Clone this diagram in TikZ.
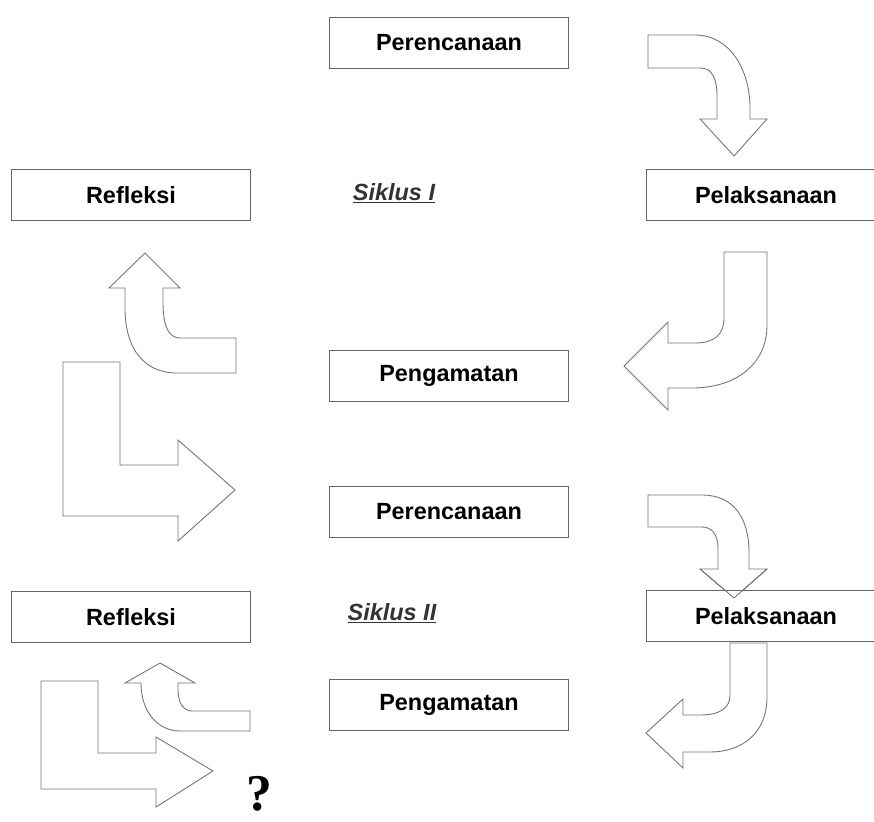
\documentclass[tikz,border=0pt]{standalone}
\usepackage{fontspec}
\setmainfont{Liberation Sans}
\newfontfamily\qfont{Liberation Serif}
\usepackage{tikz}
\usetikzlibrary{positioning}

\tikzset{
  box/.style={draw=black!60, line width=0.9pt, fill=white, minimum width=7.17cm,
              minimum height=1.53cm, inner sep=0pt, font=\fontsize{20}{24}\selectfont\bfseries},
  siklus/.style={font=\fontsize{20}{24}\selectfont\bfseries\itshape, text=black!80},
  blockarrow/.style={draw=black!55, line width=0.75pt, line join=miter}
}

\begin{document}
\begin{tikzpicture}[x=0.03cm, y=-0.03cm]
\useasboundingbox (0,0) rectangle (874,822);
    % Siklus I
    \node[box] (per1) at (449,43) {Perencanaan};
    \node[box] (ref1) at (131,195) {Refleksi};
    \node[box] (pel1) at (766,195) {Pelaksanaan};
    \node[box] (pen1) at (449,376) {Pengamatan};
    \node[siklus] (sik1) at (394,193) {\underline{Siklus I}};
    % Siklus II
    \node[box] (per2) at (449,512) {Perencanaan};
    \node[box] (ref2) at (131,617) {Refleksi};
    \node[siklus] (sik2) at (392,613) {\underline{Siklus II}};
    \node[box] (pen2) at (449,705) {Pengamatan};
    \node[anchor=base west, inner sep=0pt, font=\qfont\fontsize{44}{44}\selectfont\bfseries] (tanya) at (246,810) {?};

    % block arrows, Siklus I
    \draw[blockarrow] (648,35) -- (695,35) .. controls (730,35) and (750,70) .. (750,108)
        -- (750,119) -- (767,119) -- (734,156) -- (700,119) -- (717,119) -- (717,97)
        .. controls (717,78) and (712,68) .. (700,68) -- (648,68) -- cycle;
    \draw[blockarrow] (724,252) -- (767,252) -- (767,325) .. controls (767,365) and (735,388) .. (692,388)
        -- (668,388) -- (668,410) -- (624,366) -- (668,322) -- (668,343) -- (695,343)
        .. controls (714,343) and (724,335) .. (724,318) -- cycle;
    \draw[blockarrow] (236,338) -- (180,338) .. controls (168,338) and (163,325) .. (163,302)
        -- (163,288) -- (180,288) -- (145,253) -- (109,288) -- (125,288) -- (125,308)
        .. controls (125,350) and (145,373) .. (177,373) -- (236,373) -- cycle;
    \draw[blockarrow] (63,362) -- (120,362) -- (120,465) -- (178,465) -- (178,440) -- (235,490)
        -- (178,541) -- (178,516) -- (63,516) -- cycle;

    % block arrows, Siklus II
    \draw[blockarrow] (648,495) -- (702,495) .. controls (735,495) and (749,520) .. (749,552)
        -- (749,569) -- (767,569) -- (734,598) -- (700,569) -- (718,569) -- (718,548)
        .. controls (718,535) and (712,527) .. (702,527) -- (648,527) -- cycle;
    \node[box] (pel2) at (766,616) {Pelaksanaan};
    \draw[blockarrow] (734,598) -- (700,569);
    \draw[blockarrow] (734,598) -- (767,569);
    \draw[blockarrow] (730,643) -- (767,643) -- (767,697) .. controls (767,735) and (740,752) .. (710,752)
        -- (683,752) -- (683,768) -- (646,733) -- (683,699) -- (683,715) -- (700,715)
        .. controls (720,715) and (730,708) .. (730,695) -- cycle;
    \draw[blockarrow] (250,711) -- (192,711) .. controls (183,711) and (178,702) .. (178,690)
        -- (178,683) -- (195,683) -- (160,663) -- (125,683) -- (141,683)
        .. controls (141,712) and (158,731) .. (180,731) -- (250,731) -- cycle;
    \draw[blockarrow] (41,681) -- (98,681) -- (98,753) -- (156,753) -- (156,737) -- (213,771)
        -- (156,807) -- (156,789) -- (41,789) -- cycle;
\end{tikzpicture}
\end{document}
